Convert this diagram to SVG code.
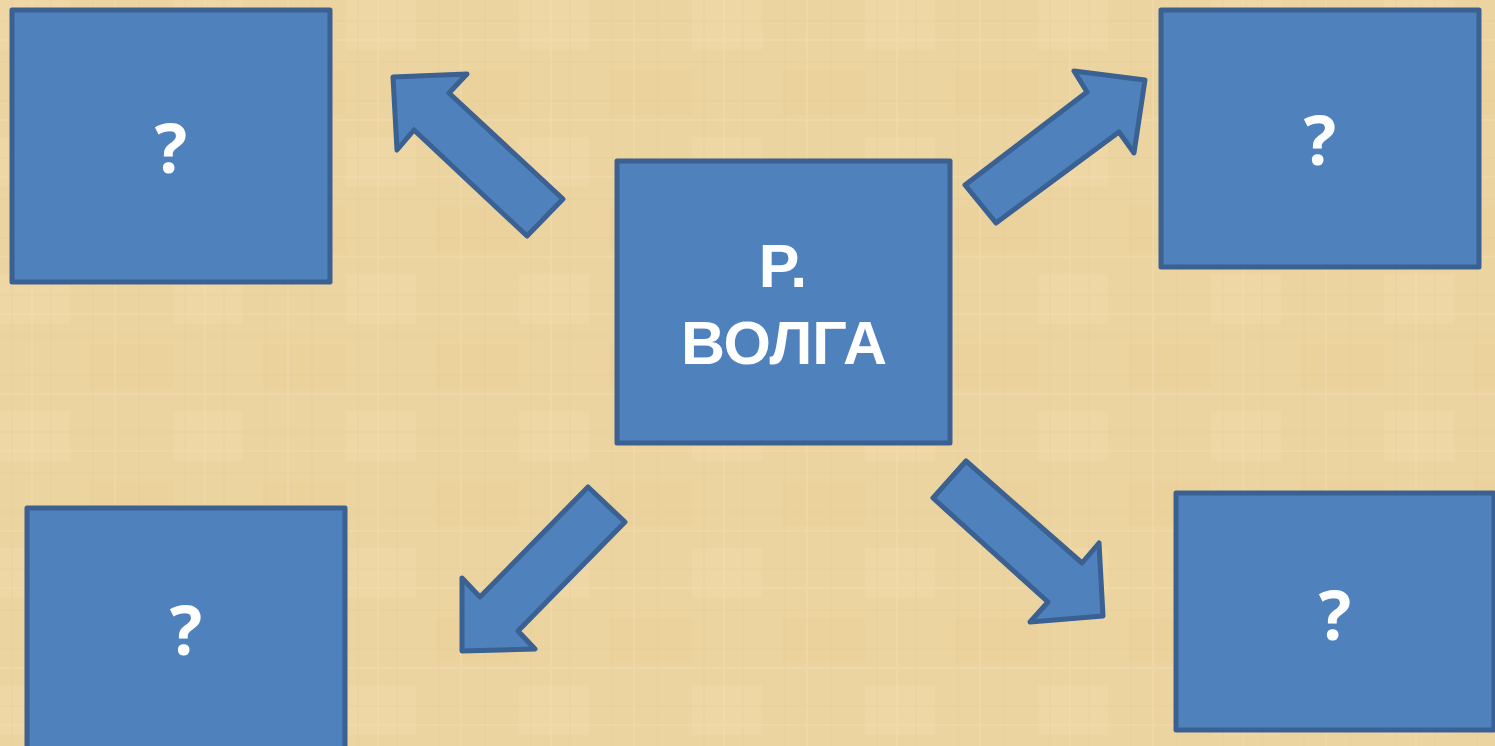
<svg xmlns="http://www.w3.org/2000/svg" width="1495" height="746" viewBox="0 0 1495 746">
<defs>
<style>
.box{fill:#4f81bd;stroke:#3a6191;stroke-width:5;stroke-linejoin:round}
.arrow{fill:#4f81bd;stroke:#3a6191;stroke-width:5;stroke-linejoin:round}
.q{font-family:"Open Sans","Noto Sans",sans-serif;font-weight:bold;font-size:68px;fill:#ffffff;text-anchor:middle}
.c{font-family:"Liberation Sans",Arial,sans-serif;font-weight:bold;font-size:61px;fill:#ffffff;text-anchor:middle}
</style>
<pattern id="papyrus" width="173" height="137" patternUnits="userSpaceOnUse">
<rect width="173" height="137" fill="#ecd4a0"/>
<rect x="0" y="0" width="70" height="50" fill="#efd9a9" opacity="0.5"/>
<rect x="90" y="70" width="83" height="45" fill="#e8cf98" opacity="0.4"/>
<g stroke="#dfc48c" stroke-width="1" opacity="0.35">
<line x1="12" y1="0" x2="12" y2="137"/>
<line x1="51" y1="0" x2="51" y2="137"/>
<line x1="93" y1="0" x2="93" y2="137"/>
<line x1="139" y1="0" x2="139" y2="137"/>
<line x1="0" y1="21" x2="173" y2="21"/>
<line x1="0" y1="62" x2="173" y2="62"/>
<line x1="0" y1="101" x2="173" y2="101"/>
</g>
<g stroke="#f3dfb3" stroke-width="2" opacity="0.4">
<line x1="32" y1="0" x2="32" y2="137"/>
<line x1="115" y1="0" x2="115" y2="137"/>
<line x1="0" y1="40" x2="173" y2="40"/>
<line x1="0" y1="120" x2="173" y2="120"/>
</g>
</pattern>
</defs>
<rect width="1495" height="746" fill="url(#papyrus)"/>

<g id="connectors">
<polygon class="arrow" points="393,77 467,74 449,93 563,199 527,236 414,130 397,150"/>
<polygon class="arrow" points="965,185 1087,92 1074,71 1145,80 1134,153 1119,132 996,223"/>
<polygon class="arrow" points="588,487 625,522 518,631 535,649 462,651 462,578 480,597"/>
<polygon class="arrow" points="966,461 1082,563 1099,543 1103,616 1030,622 1048,602 933,498"/>
</g>

<g id="node-center">
<rect class="box" x="617" y="161" width="333" height="282"/>
<text class="c" x="783" y="287">Р.</text>
<text class="c" x="784" y="364">ВОЛГА</text>
</g>
<g id="node-top-left">
<rect class="box" x="12" y="10" width="318" height="272"/>
<text class="q" x="171" y="173">?</text>
</g>
<g id="node-top-right">
<rect class="box" x="1161" y="10" width="318" height="257"/>
<text class="q" x="1320" y="165">?</text>
</g>
<g id="node-bottom-left">
<rect class="box" x="27" y="508" width="318" height="245"/>
<text class="q" x="186" y="655">?</text>
</g>
<g id="node-bottom-right">
<rect class="box" x="1176" y="493" width="318" height="237"/>
<text class="q" x="1335" y="640">?</text>
</g>
</svg>
